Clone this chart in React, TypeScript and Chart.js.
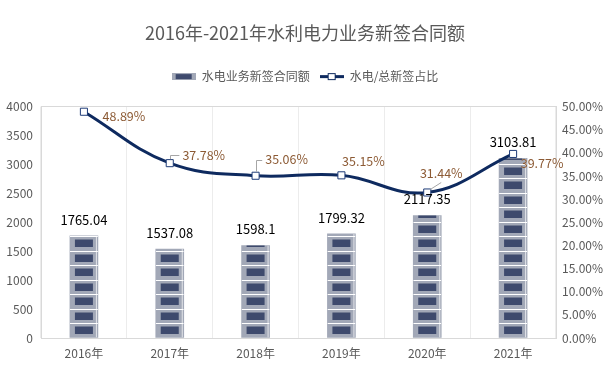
import React, { useEffect, useRef } from "react";
import { Chart, registerables } from "chart.js";

Chart.register(...registerables);

const years = ["2016年", "2017年", "2018年", "2019年", "2020年", "2021年"];
const amounts = [1765.04, 1537.08, 1598.1, 1799.32, 2117.35, 3103.81];
const ratios = [48.89, 37.78, 35.06, 35.15, 31.44, 39.77];
const leftTicksMax = 4000;
const rightTicksMax = 50;

// label placement style (offsets from point, px) and leader kind
const ratioLabelOffsets: [number, number][] = [
  [40, 5],
  [34, -8],
  [31, -16],
  [22, -14],
  [14, -19],
  [29, 9],
];
const ratioLeaders = ["none", "elbow", "elbow", "none", "diag", "none"];

const FONT = '"Noto Sans CJK SC", "Noto Sans", sans-serif';
const GRAY = "#a2a8b7";
const DARK = "#3e4a6d";
const NAVY = "#0e2a5f";
const TEXT = "#595959";
const LABEL_BROWN = "#8c5a34";

function makeBarIcon() {
  const c = document.createElement("canvas");
  c.width = 24;
  c.height = 7;
  const g = c.getContext("2d")!;
  g.fillStyle = GRAY;
  g.fillRect(0, 0, 24, 7);
  g.fillStyle = DARK;
  g.fillRect(4, 1, 16, 5);
  return c;
}

function makeLineIcon() {
  const c = document.createElement("canvas");
  c.width = 24;
  c.height = 9;
  const g = c.getContext("2d")!;
  g.fillStyle = NAVY;
  g.fillRect(0, 3, 24, 3);
  g.fillStyle = "#ffffff";
  g.fillRect(8.5, 1, 7, 7);
  g.strokeStyle = NAVY;
  g.lineWidth = 1;
  g.strokeRect(8.5, 1.5, 7, 6);
  return c;
}

const legendSpacePlugin = {
  id: "legendSpace",
  beforeInit(chart: any) {
    const legend = chart.legend;
    if (!legend) return;
    const orig = legend.fit;
    legend.fit = function () {
      orig.call(this);
      this.height += 14;
    };
  },
};

const barPatternPlugin = {
  id: "barPattern",
  afterDatasetDraw(chart: any, args: any) {
    if (args.index !== 0) return;
    const meta = chart.getDatasetMeta(0);
    const ys = chart.scales.y;
    const period = ys.getPixelForValue(0) - ys.getPixelForValue(250);
    const ctx = chart.ctx;
    meta.data.forEach((bar: any) => {
      const { x, y, base, width } = bar.getProps(["x", "y", "base", "width"], true);
      const left = x - width / 2;
      ctx.save();
      ctx.beginPath();
      ctx.rect(left, y, width, base - y);
      ctx.clip();
      for (let k = 0; base - k * period > y; k++) {
        const cellTop = base - (k + 1) * period;
        ctx.fillStyle = "#ffffff";
        ctx.fillRect(left, Math.round(cellTop), width, 1);
        ctx.fillStyle = DARK;
        ctx.fillRect(left + 5, Math.round(cellTop) + 3.5, width - 10, 7.5);
      }
      ctx.fillStyle = "rgba(255,255,255,0.7)";
      ctx.fillRect(left + width - 2, y, 1, base - y);
      ctx.restore();
    });
  },
};

const labelsPlugin = {
  id: "valueLabels",
  afterDatasetsDraw(chart: any) {
    const ctx = chart.ctx;
    const barMeta = chart.getDatasetMeta(0);
    const lineMeta = chart.getDatasetMeta(1);
    ctx.save();
    ctx.font = `13px ${FONT}`;
    ctx.textAlign = "center";
    ctx.textBaseline = "middle";
    ctx.fillStyle = "#000000";
    barMeta.data.forEach((bar: any, i: number) => {
      ctx.fillText(String(amounts[i]), bar.x, bar.y - 16);
    });
    ctx.font = `12.5px ${FONT}`;
    lineMeta.data.forEach((pt: any, i: number) => {
      const [dx, dy] = ratioLabelOffsets[i];
      const lx = pt.x + dx;
      const ly = pt.y + dy;
      const text = ratios[i].toFixed(2) + "%";
      const tw = ctx.measureText(text).width;
      ctx.strokeStyle = "#a6a6a6";
      ctx.lineWidth = 1;
      if (ratioLeaders[i] === "elbow") {
        ctx.beginPath();
        ctx.moveTo(Math.round(pt.x) + 0.5, pt.y - 4);
        ctx.lineTo(Math.round(pt.x) + 0.5, Math.round(ly) + 0.5);
        ctx.lineTo(lx - tw / 2 - 3, Math.round(ly) + 0.5);
        ctx.stroke();
      } else if (ratioLeaders[i] === "diag") {
        ctx.beginPath();
        ctx.moveTo(pt.x + 3, pt.y - 3);
        ctx.lineTo(lx, ly + 9);
        ctx.stroke();
      }
      ctx.fillStyle = LABEL_BROWN;
      ctx.fillText(text, lx, ly);
    });
    ctx.restore();
  },
};

export default function App() {
  const ref = useRef<HTMLCanvasElement | null>(null);
  useEffect(() => {
    document.body.style.margin = "0";
    if (!ref.current) return;
    const barIcon = makeBarIcon();
    const lineIcon = makeLineIcon();
    const chart = new Chart(ref.current, {
      type: "bar",
      data: {
        labels: years,
        datasets: [
          {
            type: "bar",
            label: "水电业务新签合同额",
            data: amounts,
            backgroundColor: GRAY,
            barThickness: 28,
            yAxisID: "y",
            order: 2,
          },
          {
            type: "line",
            label: "水电/总新签占比",
            data: ratios,
            borderColor: NAVY,
            borderWidth: 3,
            tension: 0.4,
            pointStyle: "rect",
            pointRadius: 5,
            pointBackgroundColor: "#ffffff",
            pointBorderColor: "#1f3c78",
            pointBorderWidth: 1,
            yAxisID: "y1",
            order: 1,
          } as any,
        ],
      },
      options: {
        responsive: false,
        animation: false,
        layout: { padding: { left: 0, right: 0, top: 0, bottom: 0 } },
        plugins: {
          tooltip: { enabled: false },
          title: {
            display: true,
            text: "2016年-2021年水利电力业务新签合同额",
            color: TEXT,
            font: { family: FONT, size: 18, weight: "normal" },
            padding: { top: 22, bottom: 17 },
          },
          legend: {
            display: true,
            labels: {
              usePointStyle: true,
              pointStyleWidth: 24,
              padding: 10,
              color: TEXT,
              font: { family: FONT, size: 12 },
              generateLabels: () => [
                { text: "水电业务新签合同额", pointStyle: barIcon, datasetIndex: 0, fontColor: TEXT, lineWidth: 0 } as any,
                { text: "水电/总新签占比", pointStyle: lineIcon, datasetIndex: 1, fontColor: TEXT, lineWidth: 0 } as any,
              ],
            },
          },
        },
        scales: {
          x: {
            grid: { display: true, offset: true, color: "#ececec", drawTicks: false },
            border: { color: "#d9d9d9" },
            ticks: { color: TEXT, font: { family: FONT, size: 12 }, padding: 8 },
            afterFit: (s: any) => {
              s.height = 51;
            },
          },
          y: {
            position: "left",
            min: 0,
            max: leftTicksMax,
            ticks: {
              stepSize: 500,
              color: TEXT,
              font: { family: FONT, size: 12 },
              padding: 8,
              callback: (v: any) => String(v),
            },
            grid: {
              drawTicks: false,
              color: (c: any) => (c.tick && c.tick.value === leftTicksMax ? "#d9d9d9" : "rgba(0,0,0,0)"),
            },
            border: { color: "#d9d9d9" },
            afterFit: (s: any) => {
              s.width = 41;
            },
          },
          y1: {
            position: "right",
            min: 0,
            max: rightTicksMax,
            ticks: {
              stepSize: 5,
              color: TEXT,
              font: { family: FONT, size: 12 },
              padding: 6,
              callback: (v: any) => Number(v).toFixed(2) + "%",
            },
            grid: { display: false, drawTicks: false },
            border: { color: "#d9d9d9" },
            afterFit: (s: any) => {
              s.width = 54;
            },
          },
        },
      } as any,
      plugins: [legendSpacePlugin, barPatternPlugin, labelsPlugin],
    });
    return () => chart.destroy();
  }, []);
  return (
    <div style={{ width: 610, height: 389 }}>
      <canvas ref={ref} width={610} height={389} />
    </div>
  );
}
